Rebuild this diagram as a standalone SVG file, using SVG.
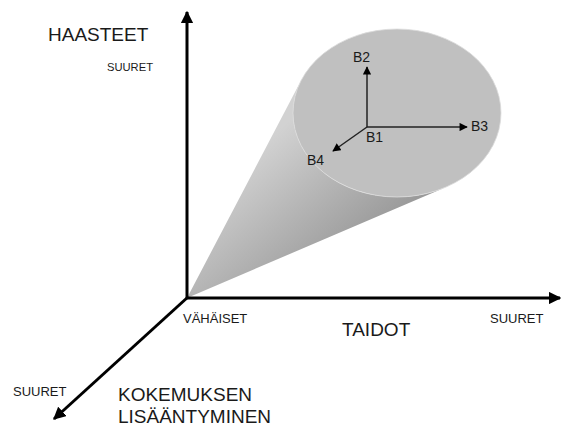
<svg xmlns="http://www.w3.org/2000/svg" width="563" height="428" viewBox="0 0 563 428">
<style>
text{font-family:"Liberation Sans",Arial,sans-serif;fill:#1a1a1a}
.big{font-size:19px}
.sm{font-size:13px}
.b{font-size:14px}
.axis{stroke:#000;stroke-width:3;fill:none}
.vec{stroke:#222;stroke-width:1.5;fill:none}
</style>
<defs>
<linearGradient id="coneg" gradientUnits="userSpaceOnUse" x1="290" y1="120" x2="380" y2="230">
<stop offset="0" stop-color="#d2d2d2"/>
<stop offset="1" stop-color="#9a9a9a"/>
</linearGradient>
<marker id="ah" viewBox="0 0 10 10" refX="9" refY="5" markerWidth="4.2" markerHeight="4.2" orient="auto" markerUnits="strokeWidth">
<path d="M0,0 L10,5 L0,10 Z" fill="#000"/>
</marker>
<marker id="sh" viewBox="0 0 10 10" refX="9" refY="5" markerWidth="6" markerHeight="5.5" orient="auto" markerUnits="strokeWidth">
<path d="M0,0 L10,5 L0,10 Z" fill="#000"/>
</marker>
</defs>
<g id="cone">
<path d="M187,298 L301.2,80.2 A104,84 0 0 0 445.7,187.2 Z" fill="url(#coneg)"/>
<ellipse cx="397" cy="113" rx="104" ry="84" fill="#c0c0c0" stroke="#dcdcdc" stroke-width="0.8"/>
</g>
<g id="connectors">
<line class="axis" x1="187" y1="299" x2="187" y2="12" marker-end="url(#ah)"/>
<line class="axis" x1="186" y1="298" x2="560" y2="298" marker-end="url(#ah)"/>
<line class="axis" x1="188" y1="297" x2="54" y2="419" marker-end="url(#ah)"/>
<line class="vec" x1="367" y1="127" x2="367" y2="67" marker-end="url(#sh)"/>
<line class="vec" x1="367" y1="127" x2="467" y2="127" marker-end="url(#sh)"/>
<line class="vec" x1="367" y1="127" x2="333" y2="151" marker-end="url(#sh)"/>
</g>
<g id="labels">
<text class="big" x="48" y="41">HAASTEET</text>
<text x="107" y="71" font-size="11.2">SUURET</text>
<text class="sm" x="183" y="323">VÄHÄISET</text>
<text class="big" x="342" y="336">TAIDOT</text>
<text class="sm" x="490" y="323">SUURET</text>
<text class="sm" x="13" y="396">SUURET</text>
<text class="big" x="118" y="401">KOKEMUKSEN</text>
<text class="big" x="118" y="423">LISÄÄNTYMINEN</text>
</g>
<g id="b-labels">
<text class="b" x="353" y="62">B2</text>
<text class="b" x="471" y="131">B3</text>
<text class="b" x="366" y="142">B1</text>
<text class="b" x="307" y="165">B4</text>
</g>
</svg>
